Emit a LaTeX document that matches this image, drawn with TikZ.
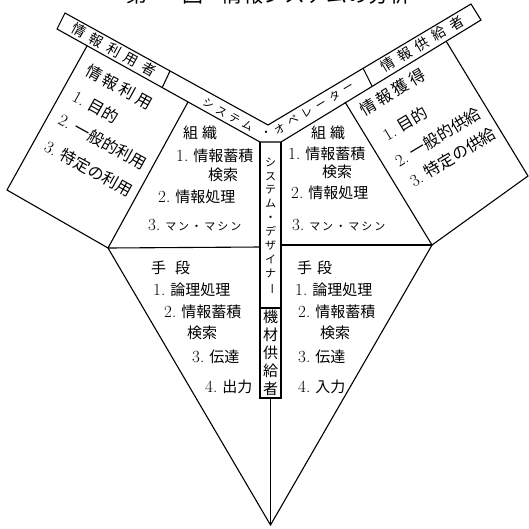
\documentclass[tikz,border=0pt]{standalone}
\usepackage{fontspec}
\usepackage{graphicx}
\newfontfamily\jp{Noto Sans CJK JP}
\newcommand\numlab[1]{{\rmfamily\fontsize{17}{18}\selectfont #1}\hspace{5pt}}
\newcommand\sgap[1]{\hspace{#1pt}}
\tikzset{
  frame/.style={line width=1.1pt, line join=miter},
  lbl/.style={inner sep=0pt, anchor=west, font=\jp\fontsize{15}{18}\selectfont},
  rotl/.style={inner sep=0pt, anchor=west, rotate=-29, font=\jp\fontsize{16}{18}\selectfont},
  rotr/.style={inner sep=0pt, anchor=west, rotate=31, font=\jp\fontsize{16}{18}\selectfont},
  bandlbl/.style={inner sep=0pt, font=\jp\fontsize{14}{16}\selectfont},
  oplbl/.style={inner sep=0pt, font=\jp\fontsize{11}{13}\selectfont},
  vlbl/.style={inner sep=0pt, align=center, font=\jp\fontsize{11}{13.9}\selectfont},
  vlblb/.style={inner sep=0pt, align=center, font=\jp\fontsize{15}{18}\selectfont},
  titlelbl/.style={inner sep=0pt, anchor=base west, font=\jp\fontsize{21}{24}\selectfont}
}
\newcommand\smk[1]{{\fontsize{11}{13}\selectfont #1}}
\begin{document}
\begin{tikzpicture}[x=1pt,y=-1pt]
\useasboundingbox (0,0) rectangle (529,528);
\fill[white] (0,0) rectangle (529,528);
\clip (0,0) rectangle (529,528);

% points
\coordinate (TL) at (65,13);
\coordinate (BL) at (57,29);
\coordinate (U) at (268,125);
\coordinate (TR) at (471,4);
\coordinate (BR) at (481,20);
\coordinate (LV) at (260,142);
\coordinate (RV) at (281,142);
\coordinate (LD1) at (170,71);
\coordinate (LD2) at (162,88);
\coordinate (RD1) at (363,68);
\coordinate (RD2) at (372,86);
\coordinate (P1) at (87,46);
\coordinate (P2) at (188,102);
\coordinate (P3) at (108,248);
\coordinate (P4) at (7,190);
\coordinate (Q1) at (345,102);
\coordinate (Q2) at (446,41);
\coordinate (Q3) at (528,176);
\coordinate (Q4) at (432,245);
\coordinate (HL) at (260,247);
\coordinate (HR) at (281,245);
\coordinate (VB1) at (260,308);
\coordinate (VB2) at (281,308);
\coordinate (MB1) at (260,398);
\coordinate (MB2) at (281,398);
\coordinate (MBc) at (270.5,398);
\coordinate (B) at (270.5,525);

% frame
\draw[frame] (BL) -- (TL) -- (U) -- (TR) -- (BR) -- (RV) -- (LV) -- cycle;
\draw[frame] (LV) -- (MB1) -- (MB2) -- (RV);
\draw[frame] (VB1) -- (VB2);
\draw[frame] (LD1) -- (LD2);
\draw[frame] (RD1) -- (RD2);
\draw[frame] (P1) -- (P4) -- (P3) -- (P2);
\draw[frame] (Q2) -- (Q3) -- (Q4) -- (Q1);
\draw[frame] (P3) -- (HL);
\draw[frame] (HR) -- (Q4);
\draw[frame] (P3) -- (B) -- (Q4);
\draw[frame] (MBc) -- (B);

% title (cut off at top)
\node[titlelbl] (title) at (126.5,2) {第\sgap{7}一\sgap{7}図\sgap{18}情報システムの分析};

% band labels
\node[bandlbl, rotate=-29] (users) at (114,50) {情\sgap{6}報\sgap{6}利\sgap{6}用\sgap{6}者};
\node[bandlbl, rotate=31] (suppliers) at (422,44) {情\sgap{6}報\sgap{6}供\sgap{6}給\sgap{6}者};
\node[oplbl, rotate=-29] (op1) at (228,115) {シ\sgap{4}ス\sgap{4}テ\sgap{4}ム};
\node[oplbl] (op2) at (266,134) {・};
\node[oplbl, rotate=31] (op3) at (314,108) {オ\sgap{5}ペ\sgap{5}レ\sgap{5}ー\sgap{5}タ\sgap{5}ー};

% vertical labels
\node[vlbl] (designer) at (270.5,226) {シ\\ス\\テ\\ム\\・\\デ\\ザ\\イ\\ナ\\\rotatebox[origin=c]{-90}{ー}};
\node[vlblb] (maker) at (270.5,353) {機\\材\\供\\給\\者};

% left panel (rotated)
\node[rotl] (l1) at (87,69) {情\sgap{3}報\sgap{3}利\sgap{3}用};
\node[rotl] (l2) at (74,95) {\numlab{1.}目的};
\node[rotl] (l3) at (60,118) {\numlab{2.}一般的利用};
\node[rotl] (l4) at (46,145) {\numlab{3.}特定の利用};

% right panel (rotated)
\node[rotr] (r1) at (361,111) {情\sgap{3}報\sgap{3}獲\sgap{3}得};
\node[rotr] (r2) at (384,136) {\numlab{1.}目的};
\node[rotr] (r3) at (396,162) {\numlab{2.}一般的供給};
\node[rotr] (r4) at (411,182) {\numlab{3.}特定の供給};

% left organisation
\node[lbl] (lo0) at (183,133) {組\sgap{4}織};
\node[lbl] (lo1) at (176,156) {\numlab{1.}情報蓄積};
\node[lbl] (lo1b) at (208,175) {検索};
\node[lbl] (lo2) at (158,197) {\numlab{2.}情報処理};
\node[lbl] (lo3) at (148,225) {\numlab{3.}\smk{マ\sgap{2}ン\sgap{2}・\sgap{2}マ\sgap{2}シ\sgap{2}ン}};

% right organisation
\node[lbl] (ro0) at (311,133) {組\sgap{4}織};
\node[lbl] (ro1) at (288,154) {\numlab{1.}情報蓄積};
\node[lbl] (ro1b) at (322,172) {検索};
\node[lbl] (ro2) at (291,193) {\numlab{2.}情報処理};
\node[lbl] (ro3) at (292,225) {\numlab{3.}\smk{マ\sgap{2}ン\sgap{2}・\sgap{2}マ\sgap{2}シ\sgap{2}ン}};

% left means
\node[lbl] (lm0) at (151,268) {手\sgap{9}段};
\node[lbl] (lm1) at (153,290) {\numlab{1.}論理処理};
\node[lbl] (lm2) at (164,312) {\numlab{2.}情報蓄積};
\node[lbl] (lm2b) at (187,333) {検索};
\node[lbl] (lm3) at (192,357) {\numlab{3.}伝達};
\node[lbl] (lm4) at (205,387) {\numlab{4.}出力};

% right means
\node[lbl] (rm0) at (297,268) {手\sgap{5}段};
\node[lbl] (rm1) at (295,290) {\numlab{1.}論理処理};
\node[lbl] (rm2) at (298,312) {\numlab{2.}情報蓄積};
\node[lbl] (rm2b) at (320,333) {検索};
\node[lbl] (rm3) at (298,357) {\numlab{3.}伝達};
\node[lbl] (rm4) at (298,387) {\numlab{4.}入力};
\end{tikzpicture}
\end{document}
